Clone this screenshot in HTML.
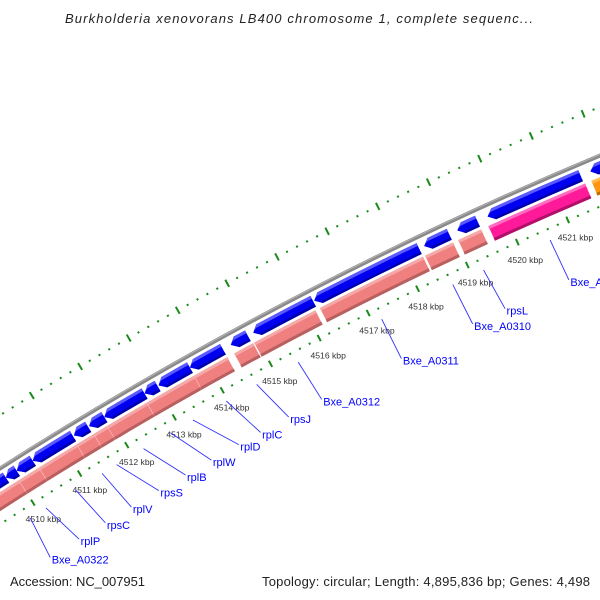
<!DOCTYPE html>
<html><head><meta charset="utf-8"><style>
html,body{margin:0;padding:0;background:#fff}
svg{display:block;font-family:"Liberation Sans","DejaVu Sans",sans-serif}
</style></head><body>
<svg id="map" width="600" height="600" viewBox="0 0 600 600" xmlns="http://www.w3.org/2000/svg">
<rect width="600" height="600" fill="#fff"/>
<text x="299" y="23" text-anchor="middle" font-size="13" font-style="italic" fill="#222" textLength="468">Burkholderia xenovorans LB400 chromosome 1, complete sequenc...</text>
<g id="layer"></g>
<text x="10" y="586" font-size="13" fill="#222" textLength="135">Accession: NC_007951</text>
<text x="590" y="586" text-anchor="end" font-size="13" fill="#222" textLength="328">Topology: circular; Length: 4,895,836 bp; Genes: 4,498</text>
</svg>
<script>
const pinkStarts=[4508.89,4510.00,4510.43,4511.23,4511.59,4511.87,4512.70,4513.68,4514.51,4514.92,4516.26,4518.38,4519.04];
const pinkEnds=[4510.00,4510.43,4511.23,4511.59,4511.87,4512.70,4513.68,4514.37,4514.90,4516.17,4518.34,4518.94,4519.50];
const magentaStarts=[4519.64];
const magentaEnds=[4521.55];
const orangeStarts=[4521.67];
const orangeEnds=[4522.6];
const blueStarts=[4509.20,4509.83,4510.06,4510.40,4511.27,4511.59,4511.91,4512.75,4513.04,4513.69,4514.53,4514.99,4516.23,4518.44,4519.10,4519.70,4521.72];
const blueEnds=[4509.83,4510.06,4510.40,4511.25,4511.57,4511.91,4512.75,4513.02,4513.69,4514.37,4514.88,4516.21,4518.34,4518.94,4519.50,4521.53,4522.6];
const labelNames=["Bxe_A0322","rplP","rpsC","rplV","rpsS","rplB","rplW","rplD","rplC","rpsJ","Bxe_A0312","Bxe_A0311","Bxe_A0310","rpsL","Bxe_A0308"];
const labelAnchorBp=[4509.81,4510.15,4510.78,4511.35,4511.66,4512.23,4512.80,4513.27,4513.97,4514.60,4515.46,4517.17,4518.61,4519.23,4520.56];
const labelTextBp=[4509.73,4510.36,4510.93,4511.49,4512.08,4512.65,4513.20,4513.78,4514.24,4514.83,4515.52,4517.17,4518.63,4519.29,4520.58];
const tickKbp=[4510,4511,4512,4513,4514,4515,4516,4517,4518,4519,4520,4521];
const tickRange=[4508.0,4523.0];

const CX=2122,CY=3806,A0=-122.31,K=0.807;
const NS="http://www.w3.org/2000/svg";
const layer=document.getElementById('layer');
function P(bp,r){const t=(A0+(bp-4510)*K)*Math.PI/180;return [CX+r*Math.cos(t),CY+r*Math.sin(t)];}
function f(p){return p[0].toFixed(2)+' '+p[1].toFixed(2);}
function sector(b1,b2,r1,r2){return 'M'+f(P(b1,r2))+' A'+r2+' '+r2+' 0 0 1 '+f(P(b2,r2))+' L'+f(P(b2,r1))+' A'+r1+' '+r1+' 0 0 0 '+f(P(b1,r1))+' Z';}
function mk(tag,attrs){const e=document.createElementNS(NS,tag);for(const k in attrs)e.setAttribute(k,attrs[k]);layer.appendChild(e);return e;}

// outer tick ring
for(let i=Math.round(tickRange[0]*5);i<=Math.round(tickRange[1]*5);i++){
  const bp=i/5;const major=(i%5===0);
  const a=P(bp,major?3996:3999),b=P(bp,major?4004:4001);
  const l=mk('line',{x1:a[0],y1:a[1],x2:b[0],y2:b[1],stroke:'#1a8a1a','stroke-width':major?2:2});
  
  
}
// backbone
const bb=mk('path',{d:'M'+f(P(4506,3955))+' A3955 3955 0 0 1 '+f(P(4524,3955)),fill:'none',stroke:'#8a8a8a','stroke-width':4});


const bb2=mk('path',{d:'M'+f(P(4506,3956))+' A3956 3956 0 0 1 '+f(P(4524,3956)),fill:'none',stroke:'#b5b5b5','stroke-width':1});



function band(starts,ends,r1,r2,main,light,dark,name){
  for(let i=0;i<starts.length;i++){
    const g=mk('path',{d:sector(starts[i],ends[i],r1,r2),fill:main,stroke:'#fff','stroke-opacity':0.35,'stroke-width':0.6});
    
    
    const t=mk('path',{d:sector(starts[i],ends[i],r2-3,r2),fill:light});
    
    
    const d=mk('path',{d:sector(starts[i],ends[i],r1,r1+3),fill:dark});
    
    
  }
}
band(pinkStarts,pinkEnds,3919,3935,'#f08080','#f6a8a8','#b86060','reverse-gene');
band(magentaStarts,magentaEnds,3919,3935,'#ff1a9a','#ff6cc0','#b0106a','rna-gene');
band(orangeStarts,orangeEnds,3919,3935,'#ff9410','#ffb850','#c06a00','other-gene');

// blue arrows pointing to lower bp
for(let i=0;i<blueStarts.length;i++){
  const s=blueStarts[i],e=blueEnds[i],r1=3938,r2=3950,rm=(r1+r2)/2;
  const h=Math.min(0.12,(e-s)*0.5);
  const d='M'+f(P(s,rm))+' L'+f(P(s+h,r2))+' A'+r2+' '+r2+' 0 0 1 '+f(P(e,r2))+' L'+f(P(e,r1))+' A'+r1+' '+r1+' 0 0 0 '+f(P(s+h,r1))+' Z';
  const g=mk('path',{d:d,fill:'#0000f0'});
  
  
  const t=mk('path',{d:'M'+f(P(s+h*0.25,rm+1.5))+' L'+f(P(s+h,r2))+' A'+r2+' '+r2+' 0 0 1 '+f(P(e,r2))+' L'+f(P(e,r2-3))+' A'+(r2-3)+' '+(r2-3)+' 0 0 0 '+f(P(s+h*0.75,r2-3))+' Z',fill:'#5a5aff'});
  
  
  const b=mk('path',{d:'M'+f(P(s+h*0.75,r1+2.5))+' L'+f(P(s+h,r1))+' A'+r1+' '+r1+' 0 0 1 '+f(P(e,r1))+' L'+f(P(e,r1+2.5))+' Z',fill:'#0000a8'});
  
  
}

// inner tick ring
for(let i=Math.round(tickRange[0]*5);i<=Math.round(tickRange[1]*5);i++){
  const bp=i/5;const major=(i%5===0);
  const a=P(bp,major?3905:3907),b=P(bp,major?3912:3909);
  const l=mk('line',{x1:a[0],y1:a[1],x2:b[0],y2:b[1],stroke:'#1a8a1a','stroke-width':2});
  
  
}
// tick labels
for(let i=0;i<tickKbp.length;i++){
  const p=P(tickKbp[i],3889);
  const t=mk('text',{x:p[0],y:p[1]+3,'text-anchor':'middle','font-size':8.6,fill:'#333'});
  t.textContent=tickKbp[i]+' kbp';
  
  
}
// feature labels
for(let i=0;i<labelNames.length;i++){
  const a=P(labelAnchorBp[i],3897),b=P(labelTextBp[i],3853);
  const l=mk('line',{x1:a[0],y1:a[1],x2:b[0],y2:b[1],stroke:'#3030ff','stroke-width':0.9});
  
  
  const t=mk('text',{x:b[0]+1.5,y:b[1]+6,'font-size':11,fill:'#0000ff'});
  t.textContent=labelNames[i];
  
  
}
</script>
</body></html>
